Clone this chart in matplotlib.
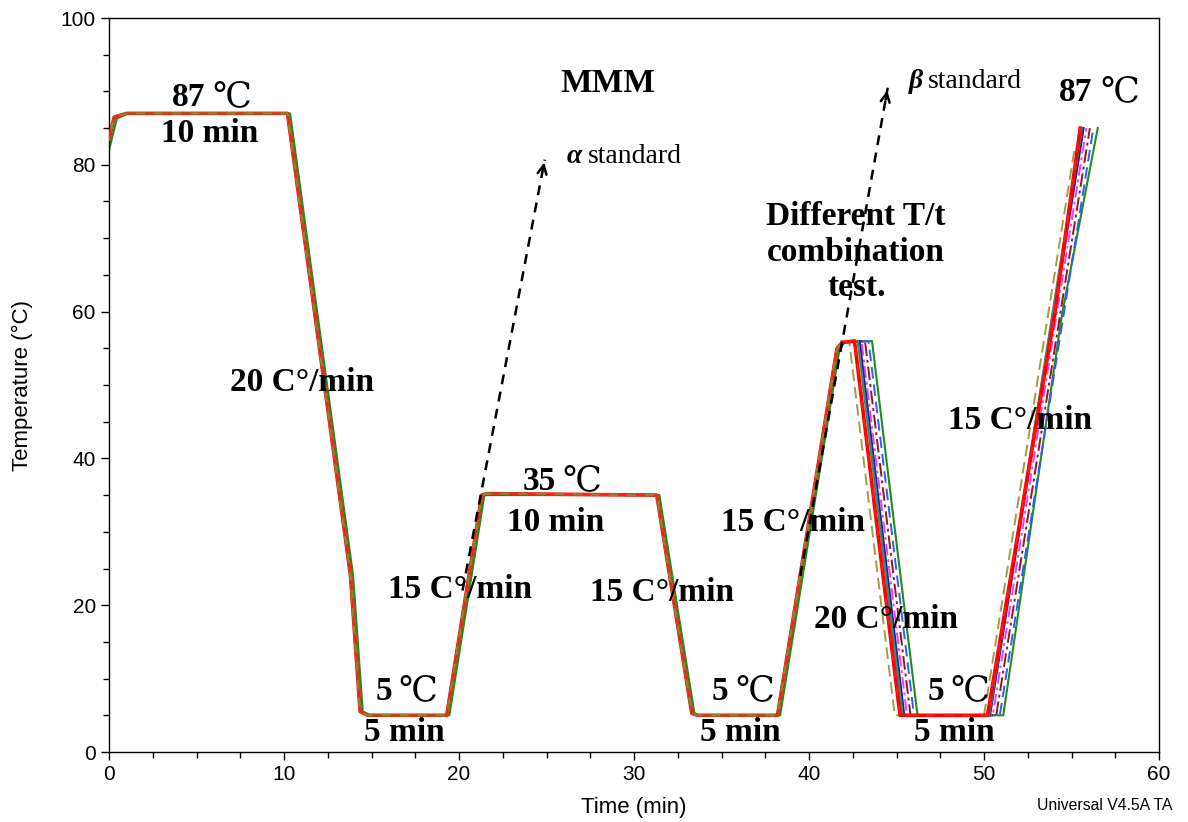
import matplotlib
matplotlib.use("Agg")
import matplotlib.pyplot as plt
from matplotlib.ticker import MultipleLocator

# ---------------- data ----------------
# shared temperature programme (min, degC) up to the 56 degC peak
base_t = [0.0, 0.3, 1.0, 10.2, 13.8, 14.35, 14.8, 19.3, 21.3, 21.6, 31.3, 33.3, 33.6, 38.2, 41.6, 41.9]
base_T = [83.5, 86.5, 87.0, 87.0, 24.0, 5.5, 5.0, 5.0, 35.0, 35.2, 35.0, 5.3, 5.0, 5.0, 55.0, 55.8]

green_t = [0.0, 0.45, 1.1, 10.35, 13.95, 14.5, 14.95, 19.45, 21.45, 21.75, 31.45, 33.45, 33.75, 38.35, 41.75, 42.05]
green_T = [82.0, 86.3, 87.0, 87.0, 24.0, 5.5, 5.0, 5.0, 35.0, 35.0, 35.0, 5.3, 5.0, 5.0, 55.0, 55.8]

# tails after the peak for each run: (end of peak, reach 5 degC, start of rise, end of rise)
olive_dash_tail_t = [42.3, 44.9, 50.0, 55.2]
olive_dash_tail_T = [55.9, 5.0, 5.0, 82.5]
red_tail_t = [42.6, 45.2, 50.2, 54.05, 55.5]
red_tail_T = [56.0, 5.0, 5.0, 59.8, 85.0]
teal_tail_t = [42.8, 45.35, 50.3, 55.6]
teal_tail_T = [56.0, 5.0, 5.0, 85.0]
navy_tail_t = [42.9, 45.45, 50.35, 55.7]
navy_tail_T = [56.0, 5.0, 5.0, 85.0]
magenta_tail_t = [43.0, 45.6, 50.5, 55.85]
magenta_tail_T = [56.0, 5.0, 5.0, 85.0]
brown_tail_t = [43.2, 45.8, 50.7, 56.05]
brown_tail_T = [56.0, 5.0, 5.0, 85.0]
blue_tail_t = [43.4, 46.0, 50.9, 56.25]
blue_tail_T = [56.0, 5.0, 5.0, 85.0]
green_tail_t = [43.6, 45.05, 46.2, 51.1, 54.45, 56.5]
green_tail_T = [56.0, 27.5, 5.0, 5.0, 59.5, 85.0]
olive_tail_t = [42.8, 45.35, 50.3, 55.6]
olive_tail_T = [56.0, 5.0, 5.0, 85.0]

alpha_arrow_t = [20.2, 24.9]
alpha_arrow_T = [22.0, 80.7]
beta_arrow_t = [39.5, 44.5]
beta_arrow_T = [24.0, 90.5]

x_ticks = [0, 10, 20, 30, 40, 50, 60]
y_ticks = [0, 20, 40, 60, 80, 100]

# ---------------- figure ----------------
fig = plt.figure(figsize=(11.88, 8.22), dpi=100)
ax = fig.add_axes([109/1188, 1-752/822, (1159-109)/1188, (752-18)/822])

# (base, tail, colour, style, width, zorder of early part, zorder of tail)
series = [
    (base_t, base_T, blue_tail_t, blue_tail_T, '#2F5BFF', (0, (6, 3)), 1.4, 2.0, 4.2),
    (base_t, base_T, brown_tail_t, brown_tail_T, '#8B1A1A', (0, (7, 2, 1.5, 2)), 1.4, 2.0, 4.3),
    (base_t, base_T, magenta_tail_t, magenta_tail_T, '#FF33FF', (0, (6, 2, 1.5, 2)), 1.4, 2.0, 4.4),
    (base_t, base_T, navy_tail_t, navy_tail_T, '#1C2A80', '-', 1.4, 2.0, 4.5),
    (base_t, base_T, teal_tail_t, teal_tail_T, '#2E8B8B', '-', 1.4, 2.0, 4.6),
    (base_t, base_T, olive_dash_tail_t, olive_dash_tail_T, '#A39B45', (0, (6, 3)), 1.4, 2.0, 4.7),
    (green_t, green_T, green_tail_t, green_tail_T, '#1E8C1E', '-', 1.5, 2.5, 4.1),
    (base_t, base_T, red_tail_t, red_tail_T, '#FF0000', '-', 2.6, 3.0, 4.8),
    (base_t, base_T, olive_tail_t, olive_tail_T, '#94802C', '-', 1.9, 3.1, 4.0),
    (base_t, base_T, red_tail_t, red_tail_T, '#FF1A1A', (0, (5, 5)), 1.3, 3.2, 4.9),
]
for bt, bT, tt, tT, col, ls, lw, z_early, z_tail in series:
    ax.plot(bt, bT, color=col, linestyle=ls, linewidth=lw, zorder=z_early)
    ax.plot([bt[-1]] + list(tt), [bT[-1]] + list(tT), color=col, linestyle=ls, linewidth=lw, zorder=z_tail)

# dashed arrows
for at, aT in ((alpha_arrow_t, alpha_arrow_T), (beta_arrow_t, beta_arrow_T)):
    ax.plot(at, aT, color='black', linestyle=(0, (4, 3)), linewidth=1.8, zorder=6)
    ax.annotate('', xy=(at[1], aT[1]), xytext=(at[0] + 0.97 * (at[1] - at[0]), aT[0] + 0.97 * (aT[1] - aT[0])),
                arrowprops=dict(arrowstyle='->', color='black', lw=1.8, mutation_scale=16), zorder=6)

ax.set_xlim(0, 60)
ax.set_ylim(0, 100)
ax.set_xticks(x_ticks)
ax.set_yticks(y_ticks)
ax.xaxis.set_minor_locator(MultipleLocator(2.5))
ax.yaxis.set_minor_locator(MultipleLocator(5))
ax.tick_params(which='major', direction='out', length=6, width=1, labelsize=15)
ax.tick_params(which='minor', direction='out', length=4, width=1)
for lab in ax.get_xticklabels() + ax.get_yticklabels():
    lab.set_family('Liberation Sans')
for s in ax.spines.values():
    s.set_linewidth(1.0)

ax.set_xlabel('Time (min)', fontsize=16, family='Liberation Sans', labelpad=9)
ax.set_ylabel('Temperature (°C)', fontsize=16, family='Liberation Sans', labelpad=20)

serif = ['Liberation Serif', 'DejaVu Serif', 'Noto Sans CJK SC']
big = dict(fontsize=24, fontweight='bold', family=serif, ha='center', va='center', zorder=7)


def temp_label(num, x_num_right, x_deg_left, y):
    ax.text(x_num_right, y, num, fontsize=24, fontweight='bold', family=serif, ha='right', va='center', zorder=7)
    ax.text(x_deg_left, y, '℃', fontsize=25, fontweight='normal', family=serif, ha='left', va='center', zorder=7)


temp_label('87', 5.49, 5.90, 89.2)
temp_label('35', 25.54, 25.90, 36.8)
temp_label('5', 16.17, 16.55, 8.2)
temp_label('5', 35.37, 35.77, 8.2)
temp_label('5', 47.71, 48.10, 8.2)
temp_label('87', 56.17, 56.65, 89.8)

ax.text(5.77, 84.3, '10 min', **big)
ax.text(11.0, 50.4, '20 C°/min', **big)
ax.text(28.5, 91.1, 'MMM', **big)
ax.text(25.5, 31.3, '10 min', **big)
ax.text(20.06, 22.1, '15 C°/min', **big)
ax.text(31.6, 21.7, '15 C°/min', **big)
ax.text(16.9, 2.6, '5 min', **big)
ax.text(36.06, 2.6, '5 min', **big)
ax.text(39.1, 31.3, '15 C°/min', **big)
ax.text(42.7, 68.1, 'Different T/t\ncombination\ntest.', linespacing=1.18, **big)
ax.text(52.06, 45.2, '15 C°/min', **big)
ax.text(44.4, 18.0, '20 C°/min', **big)
ax.text(48.3, 2.6, '5 min', **big)

ax.text(26.57, 81.1, 'α', fontsize=20, fontweight='bold', style='italic', family=serif, ha='center', va='center')
ax.text(27.37, 81.1, 'standard', fontsize=20, family=serif, ha='left', va='center')
ax.text(46.1, 91.3, 'β', fontsize=20, fontweight='bold', style='italic', family=serif, ha='center', va='center')
ax.text(46.8, 91.3, 'standard', fontsize=20, family=serif, ha='left', va='center')

fig.text(1105/1188, 1-805/822, 'Universal V4.5A TA', fontsize=11.3, family='Liberation Sans', ha='center', va='center')

fig.savefig('out.png', dpi=100)
